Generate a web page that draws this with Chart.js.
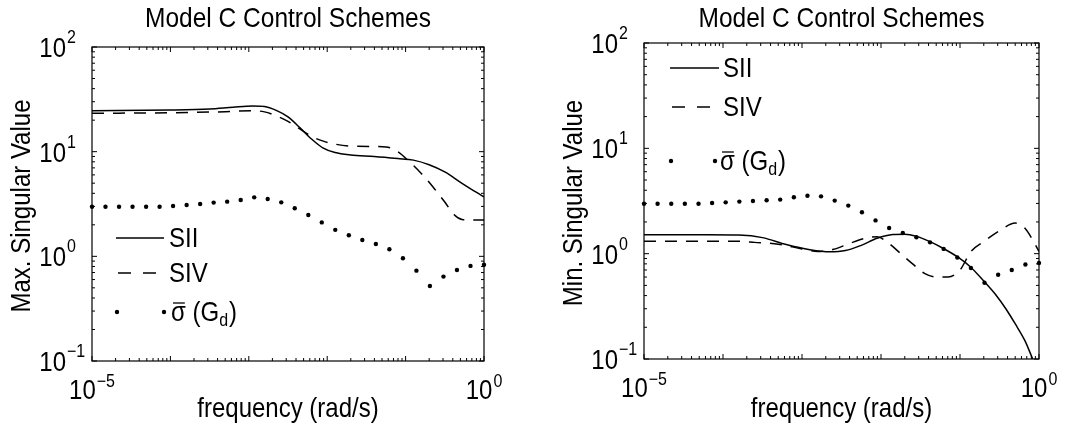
<!DOCTYPE html>
<html>
<head>
<meta charset="utf-8">
<script src="https://cdn.jsdelivr.net/npm/chart.js@4/dist/chart.umd.min.js"></script>
<style>
  body { margin: 0; background: #fff; }
  #wrap { position: relative; width: 1074px; height: 435px; }
  .panel { position: absolute; top: 0; width: 537px; height: 435px; }
</style>
</head>
<body>
<div id="wrap">
  <div class="panel" style="left:0"><canvas id="maxChart" width="537" height="435"></canvas></div>
  <div class="panel" style="left:537px"><canvas id="minChart" width="537" height="435"></canvas></div>
</div>
<script>
// log10 of the frequencies where the disturbance gain is sampled
const gdFreqExp = [-5, -4.828, -4.655, -4.483, -4.310, -4.138, -3.966, -3.793, -3.621, -3.448,
  -3.276, -3.103, -2.931, -2.759, -2.586, -2.414, -2.241, -2.069, -1.897, -1.724,
  -1.552, -1.379, -1.207, -1.034, -0.862, -0.690, -0.517, -0.345, -0.172, 0];

// max. singular values (left panel)
const maxGd = [2.98, 2.98, 2.98, 2.98, 2.98, 2.98, 3.03, 3.09, 3.16, 3.26,
  3.33, 3.45, 3.66, 3.53, 3.28, 2.88, 2.48, 2.11, 1.79, 1.59,
  1.43, 1.31, 1.17, 0.96, 0.73, 0.52, 0.64, 0.74, 0.81, 0.83];
const maxSIIExp = [-5, -4, -3.5, -3.2, -2.95, -2.8, -2.65, -2.5, -2.35, -2.2, -2.05, -1.9, -1.7, -1.4, -1.1, -0.9, -0.7, -0.5, -0.3, -0.1, 0];
const maxSII = [24.6, 25.0, 25.6, 26.6, 27.3, 27.0, 24.8, 21.5, 17.0, 13.2, 10.8, 9.8, 9.3, 9.0, 8.6, 8.3, 7.5, 6.4, 5.1, 4.1, 3.7];
const maxSIVExp = [-5, -4, -3.3, -2.95, -2.8, -2.65, -2.5, -2.35, -2.2, -2.05, -1.9, -1.7, -1.4, -1.25, -1.1, -0.95, -0.8, -0.65, -0.5, -0.38, -0.28, -0.15, 0];
const maxSIV = [23.3, 23.5, 24.1, 24.6, 24.0, 22.0, 19.5, 16.5, 14.0, 12.6, 11.8, 11.3, 11.2, 11.1, 10.0, 8.0, 6.2, 4.6, 3.3, 2.5, 2.25, 2.22, 2.22];

// min. singular values (right panel)
const minGd = [2.98, 2.98, 2.98, 2.98, 2.98, 3.03, 3.07, 3.12, 3.16, 3.21,
  3.26, 3.43, 3.55, 3.50, 3.19, 2.86, 2.47, 2.07, 1.75, 1.57,
  1.43, 1.28, 1.11, 0.92, 0.73, 0.53, 0.63, 0.70, 0.79, 0.815];
const minSIIExp = [-5, -4.2, -3.8, -3.5, -3.2, -2.9, -2.65, -2.45, -2.25, -2.05, -1.85, -1.7, -1.55, -1.38, -1.21, -1.03, -0.86, -0.69, -0.55, -0.42, -0.3, -0.18, -0.08];
const minSII = [1.51, 1.51, 1.50, 1.42, 1.22, 1.09, 1.04, 1.07, 1.20, 1.40, 1.52, 1.53, 1.46, 1.30, 1.12, 0.93, 0.74, 0.54, 0.41, 0.30, 0.215, 0.15, 0.1];
const minSIVExp = [-5, -3.8, -3.6, -3.3, -3.0, -2.8, -2.6, -2.4, -2.2, -2.05, -1.9, -1.75, -1.6, -1.45, -1.3, -1.15, -1.0, -0.86, -0.7, -0.5, -0.3, -0.18, -0.08, 0];
const minSIV = [1.31, 1.31, 1.28, 1.23, 1.11, 1.05, 1.10, 1.25, 1.40, 1.45, 1.25, 1.0, 0.80, 0.65, 0.60, 0.60, 0.70, 1.05, 1.30, 1.65, 1.95, 1.75, 1.35, 1.05];

// axis tick labels (decade exponents)
const xLabelExps = [-5, 0];
const yLabelExps = [-1, 0, 1, 2];

const FONT = '"Liberation Sans", Arial, sans-serif';
const STRETCH = 1.12; // glyphs are a little taller than Arial

function points(exps, vals) {
  return exps.map((e, i) => ({ x: Math.pow(10, e), y: vals[i] }));
}

function lineSet(label, exps, vals, dash) {
  return {
    label, data: points(exps, vals), showLine: true, borderColor: '#000',
    borderWidth: 1.5, borderDash: dash, pointRadius: 0,
    cubicInterpolationMode: 'monotone'
  };
}

function dotSet(label, vals) {
  return {
    label, data: points(gdFreqExp, vals), showLine: false, pointRadius: 2.2,
    pointBackgroundColor: '#000', pointBorderWidth: 0, clip: false
  };
}

function txt(ctx, s, x, y, size) {
  ctx.save();
  ctx.translate(x, y);
  ctx.scale(1, STRETCH);
  ctx.font = size + 'px ' + FONT;
  ctx.fillText(s, 0, 0);
  ctx.restore();
}

function textW(ctx, s, size) {
  ctx.font = size + 'px ' + FONT;
  return ctx.measureText(s).width;
}

function expStr(e) {
  return e < 0 ? '\u2212' + (-e) : String(e);
}

// "10" with a raised exponent; x is the left edge
function drawPow(ctx, x, baseY, supY, exp) {
  ctx.textAlign = 'left';
  txt(ctx, '10', x, baseY, 24);
  txt(ctx, expStr(exp), x + textW(ctx, '10', 24) + 1, supY, 16);
}

const decoPlugin = {
  id: 'deco',
  afterDraw(chart, args, opts) {
    const ctx = chart.ctx, a = chart.chartArea;
    const xs = chart.scales.x, ys = chart.scales.y;
    const cx = (a.left + a.right) / 2, cy = (a.top + a.bottom) / 2;
    ctx.save();
    ctx.strokeStyle = '#000';
    ctx.fillStyle = '#000';

    // axes box
    ctx.lineWidth = 1.2;
    ctx.strokeRect(a.left, a.top, a.right - a.left, a.bottom - a.top);

    // inward ticks on all four sides
    ctx.lineWidth = 1;
    ctx.beginPath();
    for (let e = -5; e <= 0; e++) {
      for (let m = 1; m <= 9; m++) {
        const v = m * Math.pow(10, e);
        if (v > 1.0001) break;
        const px = xs.getPixelForValue(v), len = m === 1 ? 5 : 3;
        ctx.moveTo(px, a.bottom); ctx.lineTo(px, a.bottom - len);
        ctx.moveTo(px, a.top); ctx.lineTo(px, a.top + len);
      }
    }
    for (let e = -1; e <= 2; e++) {
      for (let m = 1; m <= 9; m++) {
        const v = m * Math.pow(10, e);
        if (v > 100.001) break;
        const py = ys.getPixelForValue(v), len = m === 1 ? 5 : 3;
        ctx.moveTo(a.left, py); ctx.lineTo(a.left + len, py);
        ctx.moveTo(a.right, py); ctx.lineTo(a.right - len, py);
      }
    }
    ctx.stroke();

    // tick labels
    ctx.textBaseline = 'alphabetic';
    xLabelExps.forEach(e => {
      const px = xs.getPixelForValue(Math.pow(10, e));
      const w = textW(ctx, '10', 24) + 1 + textW(ctx, expStr(e), 16);
      drawPow(ctx, px - w / 2, a.bottom + 38, a.bottom + 26, e);
    });
    yLabelExps.forEach(e => {
      const py = ys.getPixelForValue(Math.pow(10, e));
      drawPow(ctx, a.left - 26 - textW(ctx, '10', 24), py + 10, py - 4, e);
    });

    // title and axis titles
    ctx.textAlign = 'center';
    txt(ctx, opts.title, cx, 27, 24.5);
    txt(ctx, 'frequency (rad/s)', cx, 417, 24);
    ctx.save();
    ctx.translate(a.left - 62, cy + 2);
    ctx.rotate(-Math.PI / 2);
    txt(ctx, opts.yTitle, 0, 0, 24);
    ctx.restore();

    // legend
    const lg = opts.legend;
    ctx.textAlign = 'left';
    ctx.lineWidth = 1.5;
    ctx.beginPath();
    ctx.moveTo(lg.x0, lg.rows[0]); ctx.lineTo(lg.x1, lg.rows[0]);
    ctx.stroke();
    ctx.setLineDash([13, 12]);
    ctx.beginPath();
    ctx.moveTo(lg.x0 + 2, lg.rows[1]); ctx.lineTo(lg.x1, lg.rows[1]);
    ctx.stroke();
    ctx.setLineDash([]);
    [lg.x0 + 1, lg.dotX].forEach(dx => {
      ctx.beginPath();
      ctx.arc(dx, lg.rows[2], 2.2, 0, Math.PI * 2);
      ctx.fill();
    });
    txt(ctx, 'SII', lg.textX, lg.rows[0] + 9, 24);
    txt(ctx, 'SIV', lg.textX, lg.rows[1] + 9, 24);

    // sigma with an overbar, then (G_d)
    let tx = lg.sigmaX;
    const by = lg.rows[2] + 9;
    txt(ctx, '\u03C3', tx, by, 24);
    const sw = textW(ctx, '\u03C3', 24);
    ctx.lineWidth = 1.3;
    ctx.beginPath();
    ctx.moveTo(tx + 2, by - 18); ctx.lineTo(tx + sw - 1, by - 18);
    ctx.stroke();
    tx += sw;
    txt(ctx, ' (G', tx, by, 24);
    tx += textW(ctx, ' (G', 24);
    txt(ctx, 'd', tx, by + 5, 16);
    tx += textW(ctx, 'd', 16) + 1;
    txt(ctx, ')', tx, by, 24);

    ctx.restore();
  }
};

function makeChart(id, padding, datasets, deco) {
  return new Chart(document.getElementById(id), {
    type: 'scatter',
    data: { datasets },
    options: {
      responsive: false,
      animation: false,
      devicePixelRatio: 1,
      layout: { padding },
      scales: {
        x: { type: 'logarithmic', min: 1e-5, max: 1, display: false },
        y: { type: 'logarithmic', min: 0.1, max: 100, display: false }
      },
      plugins: { legend: { display: false }, tooltip: { enabled: false }, deco }
    },
    plugins: [decoPlugin]
  });
}

makeChart('maxChart', { left: 92, top: 47, right: 53, bottom: 74 }, [
  lineSet('SII', maxSIIExp, maxSII, []),
  lineSet('SIV', maxSIVExp, maxSIV, [12, 9]),
  dotSet('sigma(Gd)', maxGd)
], {
  title: 'Model C Control Schemes',
  yTitle: 'Max. Singular Value',
  legend: { x0: 116, x1: 164, dotX: 164, textX: 169, sigmaX: 171, rows: [238, 273, 312] }
});

makeChart('minChart', { left: 107, top: 43, right: 35, bottom: 76 }, [
  lineSet('SII', minSIIExp, minSII, []),
  lineSet('SIV', minSIVExp, minSIV, [12, 9]),
  dotSet('sigma(Gd)', minGd)
], {
  title: 'Model C Control Schemes',
  yTitle: 'Min. Singular Value',
  legend: { x0: 133, x1: 182, dotX: 178, textX: 186, sigmaX: 183, rows: [68, 107, 161] }
});
</script>
</body>
</html>
